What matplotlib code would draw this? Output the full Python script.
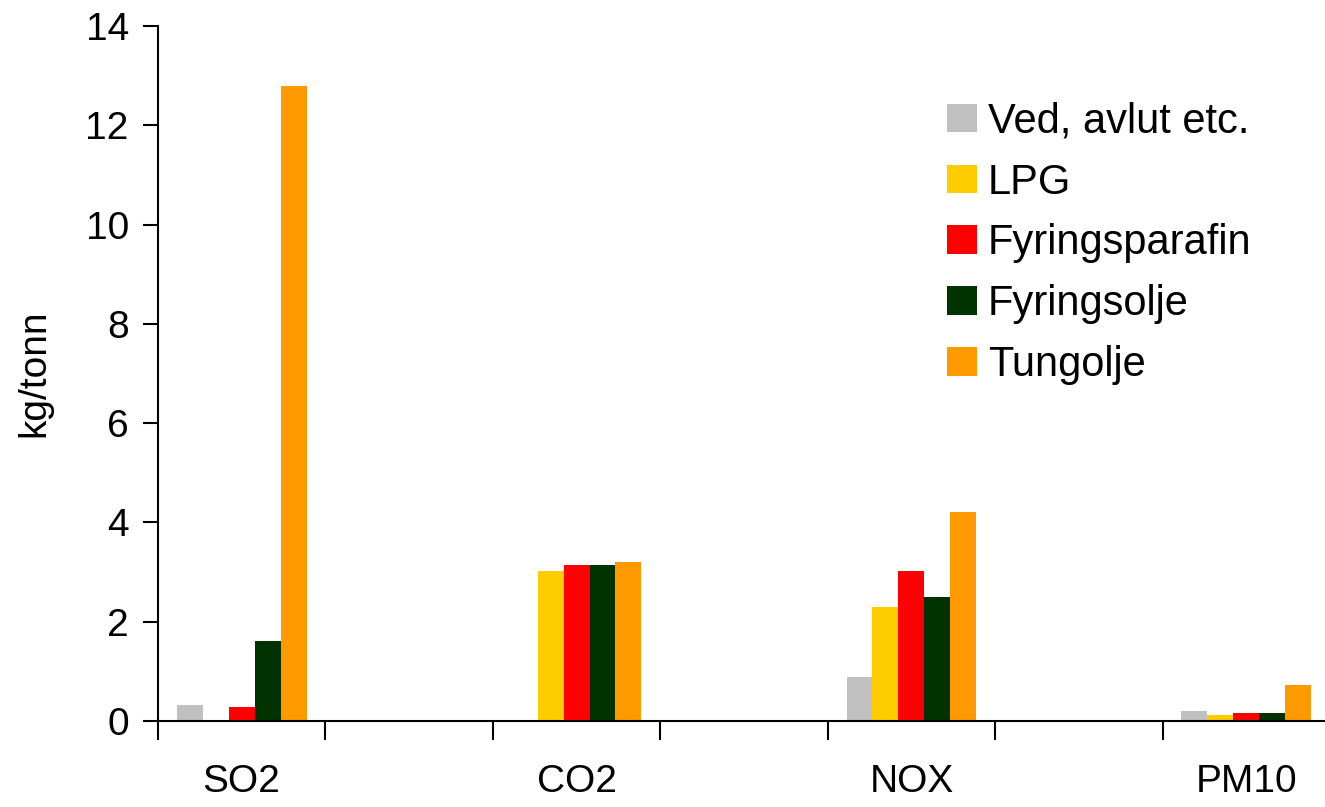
import numpy as np
import matplotlib
matplotlib.use('Agg')
import matplotlib.pyplot as plt
from matplotlib import rcParams

rcParams['font.family'] = 'Liberation Sans'

# Emission factors, kg per tonne fuel
components = ['SO2', 'CO2', 'NOX', 'PM10']
fuels = ['Ved, avlut etc.', 'LPG', 'Fyringsparafin', 'Fyringsolje', 'Tungolje']
ved = [0.33, 0.0, 0.88, 0.20]
lpg = [0.0, 3.02, 2.30, 0.12]
parafin = [0.29, 3.15, 3.02, 0.16]
fyringsolje = [1.62, 3.15, 2.50, 0.16]
tungolje = [12.8, 3.20, 4.20, 0.72]

series = [ved, lpg, parafin, fyringsolje, tungolje]
colors = ['#C0C0C0', '#FFCC00', '#FF0000', '#003300', '#FF9900']

fig = plt.figure(figsize=(13.25, 8.07), dpi=100)
ax = fig.add_axes([0.1192, 0.1066, 0.8808, 0.8612])

# categories sit on every other slot (blank slots between them)
x = np.arange(len(components)) * 2
width = 0.155
for i, (vals, col, name) in enumerate(zip(series, colors, fuels)):
    ax.bar(x + (i - 2) * width, vals, width, color=col, label=name, linewidth=0)

ax.set_xlim(-0.5, 6.47)
ax.set_ylim(0, 14)
ax.set_yticks(np.arange(0, 15, 2))
ax.set_xticks(np.arange(-0.5, 6.0, 1.0))
ax.set_xticklabels([])
ax.set_xticks(x, minor=True)
ax.set_xticklabels(components, minor=True)

ax.spines['top'].set_visible(False)
ax.spines['right'].set_visible(False)
ax.spines['left'].set_linewidth(1.5)
ax.spines['bottom'].set_linewidth(1.5)
ax.tick_params(axis='y', direction='out', length=11, width=1.5, labelsize=28, pad=10)
ax.tick_params(axis='x', which='major', direction='out', length=14, width=1.5)
ax.tick_params(axis='x', which='minor', length=0, labelsize=28, pad=31)
ax.set_ylabel('kg/tonn', fontsize=28, labelpad=24)

ax.legend(loc='upper left', bbox_to_anchor=(0.715, 0.874), bbox_transform=fig.transFigure,
          frameon=False, fontsize=30, handlelength=0.7, handleheight=0.68,
          handletextpad=0.27, labelspacing=0.5, borderaxespad=0, borderpad=0)

fig.savefig('out.png', dpi=100)
